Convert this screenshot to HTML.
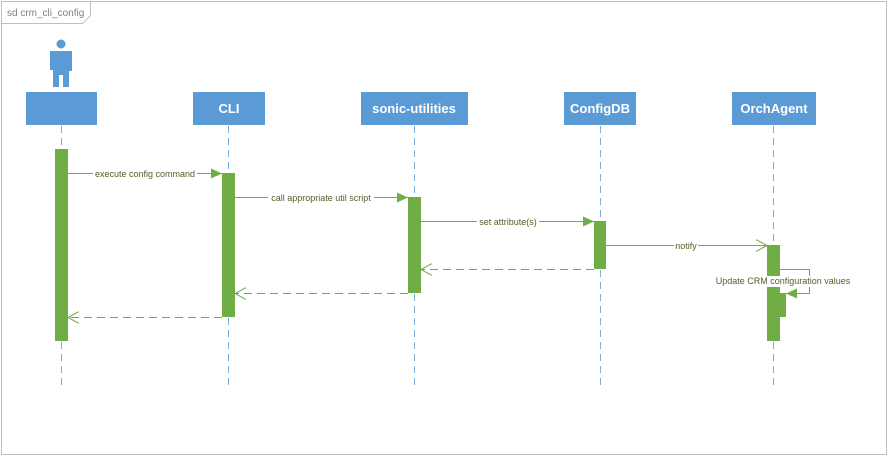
<!DOCTYPE html>
<html><head><meta charset="utf-8"><style>
html,body{margin:0;padding:0;background:#fff;}
svg{display:block;font-family:"Liberation Sans",sans-serif;}
</style></head><body>
<svg width="889" height="457" viewBox="0 0 889 457" xmlns="http://www.w3.org/2000/svg">
<defs>
<marker id="fa" markerWidth="12" markerHeight="10" refX="11" refY="5" orient="auto" markerUnits="userSpaceOnUse"><path d="M0,0 L11,5 L0,10 Z" fill="#70ad47"/></marker>
<marker id="oa" markerWidth="12" markerHeight="12" refX="11" refY="6" orient="auto" markerUnits="userSpaceOnUse"><path d="M0,0 L11,6 L0,12" fill="none" stroke="#70ad47" stroke-width="1"/></marker>
</defs>
<rect x="1.5" y="1.5" width="885" height="453" fill="#fff" stroke="#bfbfbf"/>
<path d="M1.5,23.5 L82.5,23.5 L90.5,15.5 L90.5,1.5" fill="none" stroke="#bfbfbf"/>
<text x="7" y="16" font-size="10" fill="#808080">sd crm_cli_config</text>

<circle cx="61" cy="44" r="4.5" fill="#5b9bd5"/>
<path d="M50,51 h22 v20 h-3 v-1 v17 h-6 v-12 h-4 v12 h-6 v-17 h-3 z" fill="#5b9bd5"/>

<g fill="#5b9bd5">
<rect x="26" y="92" width="71" height="33"/>
<rect x="193" y="92" width="72" height="33"/>
<rect x="361" y="92" width="107" height="33"/>
<rect x="564" y="92" width="72" height="33"/>
<rect x="732" y="92" width="84" height="33"/>
</g>
<g fill="#fff" font-size="13" font-weight="bold" text-anchor="middle">
<text x="229" y="113">CLI</text>
<text x="414" y="113">sonic-utilities</text>
<text x="600" y="113">ConfigDB</text>
<text x="774" y="113">OrchAgent</text>
</g>

<g stroke="#5b9bd5" stroke-width="1" stroke-dasharray="7,5" opacity="0.8">
<line x1="61.5" y1="126" x2="61.5" y2="385"/>
<line x1="228.5" y1="126" x2="228.5" y2="385"/>
<line x1="414.5" y1="126" x2="414.5" y2="385"/>
<line x1="600.5" y1="126" x2="600.5" y2="385"/>
<line x1="773.5" y1="126" x2="773.5" y2="385"/>
</g>

<g fill="#70ad47">
<rect x="55" y="149" width="13" height="192"/>
<rect x="222" y="173" width="13" height="144"/>
<rect x="408" y="197" width="13" height="96"/>
<rect x="594" y="221" width="12" height="48"/>
<rect x="767" y="245" width="13" height="96"/>
<rect x="774" y="293" width="12" height="24"/>
</g>

<g stroke="#70ad47" stroke-width="1" fill="none">
<line x1="68" y1="173.5" x2="222" y2="173.5" marker-end="url(#fa)"/>
<line x1="235" y1="197.5" x2="408" y2="197.5" marker-end="url(#fa)"/>
<line x1="421" y1="221.5" x2="594" y2="221.5" marker-end="url(#fa)"/>
<line x1="606" y1="245.5" x2="767" y2="245.5" marker-end="url(#oa)"/>
<line x1="594" y1="269.5" x2="421" y2="269.5" stroke-dasharray="8,5" marker-end="url(#oa)"/>
<line x1="408" y1="293.5" x2="235" y2="293.5" stroke-dasharray="8,5" marker-end="url(#oa)"/>
<line x1="222" y1="317.5" x2="68" y2="317.5" stroke-dasharray="8,5" marker-end="url(#oa)"/>
<path d="M780,269.5 H809.5 V293.5 H786" marker-end="url(#fa)"/>
</g>

<g font-size="9" fill="#4f6228" text-anchor="middle">
<rect x="93" y="168" width="104" height="11" fill="#fff"/>
<text x="145" y="177">execute config command</text>
<rect x="268" y="192" width="106" height="11" fill="#fff"/>
<text x="321" y="201">call appropriate util script</text>
<rect x="477" y="216" width="62" height="11" fill="#fff"/>
<text x="508" y="225">set attribute(s)</text>
<rect x="674" y="240" width="24" height="11" fill="#fff"/>
<text x="686" y="249">notify</text>
<rect x="711" y="276" width="144" height="11" fill="#fff"/>
<text x="783" y="284">Update CRM configuration values</text>
</g>
</svg>
</body></html>
